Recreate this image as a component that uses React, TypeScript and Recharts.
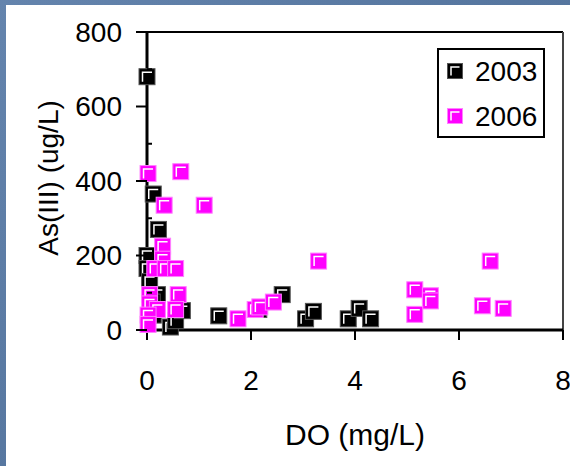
import React from 'react'
import {
  ScatterChart,
  Scatter,
  XAxis,
  YAxis,
  ReferenceLine,
} from 'recharts'

// DO (mg/L) and As(III) (ug/L) readings, per survey year
const do2003 = [0, 0.12, 0.22, 0, 0, 0.05, 0.2, 0.1, 0.12, 0.45, 0.55, 0.68, 1.38, 2.15, 2.6, 3.05, 3.2, 3.87, 4.08, 4.3]
const as2003 = [680, 365, 270, 200, 165, 130, 95, 75, 40, 8, 25, 52, 38, 55, 95, 30, 50, 30, 58, 30]

const do2006 = [0.02, 0.65, 0.33, 1.1, 0.3, 0.3, 0.15, 0.35, 0.55, 0.05, 0.6, 0.05, 0.55, 0.2, 0.02, 0.02, 1.75, 2.08, 2.17, 2.43, 3.3, 5.15, 5.45, 5.45, 5.15, 6.6, 6.45, 6.85]
const as2006 = [420, 425, 335, 335, 225, 190, 165, 165, 165, 95, 95, 70, 55, 55, 40, 15, 30, 55, 62, 75, 185, 108, 92, 78, 42, 185, 65, 58]

const xTicks = [0, 2, 4, 6, 8]
const yTicks = [0, 100, 200, 300, 400, 500, 600, 700, 800]

const series = [
  { name: '2003', fill: '#000000', edge: '#555555' },
  { name: '2006', fill: '#ff00ff', edge: '#ff80ff' },
]

const toPoints = (xs: number[], ys: number[]) => xs.map((x, i) => ({ x, y: ys[i] }))

const FONT = '"Liberation Sans", Arial, sans-serif'
const Y_AXIS_W = 147

const Marker = ({ cx, cy, fill, edge, size = 16 }: any) => {
  const s = size
  const x = cx - s / 2
  const y = cy - s / 2
  return (
    <g>
      <rect x={x} y={y} width={s} height={s} fill={fill} stroke={edge} strokeWidth={1} />
      <path
        d={`M${x + 3.5},${y + s - 3} L${x + 3.5},${y + 3.5} L${x + s - 3},${y + 3.5}`}
        stroke="#fff"
        strokeWidth={1.5}
        fill="none"
      />
    </g>
  )
}

const renderYTick = (props: any) => {
  const { y, payload } = props
  const v = payload.value
  const major = v % 200 === 0
  return (
    <g>
      {major ? (
        <line x1={Y_AXIS_W - 11} x2={Y_AXIS_W} y1={y} y2={y} stroke="#000" strokeWidth={2} />
      ) : (
        <line x1={Y_AXIS_W} x2={Y_AXIS_W + 5} y1={y} y2={y} stroke="#000" strokeWidth={2} />
      )}
      {major && (
        <text x={Y_AXIS_W - 25} y={y} dy="0.35em" textAnchor="end" fontSize={28} fontFamily={FONT} fill="#000">
          {v}
        </text>
      )}
    </g>
  )
}

const ChartLegend = () => (
  <div
    style={{
      position: 'absolute',
      left: 437,
      top: 48,
      width: 108,
      height: 90,
      boxSizing: 'border-box',
      border: '2px solid #000',
      background: '#fff',
      fontFamily: FONT,
      fontSize: 28,
      color: '#000',
    }}
  >
    {series.map((s, i) => (
      <div key={s.name}>
        <svg
          width={16}
          height={16}
          style={{ position: 'absolute', left: 8, top: 13 + i * 45 }}
        >
          <Marker cx={8} cy={8} fill={s.fill} edge={s.edge} size={15} />
        </svg>
        <span style={{ position: 'absolute', left: 36, top: 22 + i * 45 - 16, lineHeight: '32px' }}>
          {s.name}
        </span>
      </div>
    ))}
  </div>
)

export default function App() {
  const data2003 = toPoints(do2003, as2003)
  const data2006 = toPoints(do2006, as2006)

  return (
    <div
      style={{
        position: 'absolute',
        left: 0,
        top: 0,
        width: 570,
        height: 466,
        background: 'linear-gradient(135deg, #6484ad 0%, #56769f 50%, #4f6f98 100%)',
        overflow: 'hidden',
      }}
    >
      <div style={{ position: 'absolute', left: 6, top: 5, right: 0, bottom: 0, background: '#fff' }} />
      <div style={{ position: 'absolute', left: 0, top: 0 }}>
        <ScatterChart width={570} height={466} margin={{ top: 32, right: 7, left: 0, bottom: 0 }}>
          <XAxis
            type="number"
            dataKey="x"
            domain={[0, 8]}
            ticks={xTicks}
            height={136}
            axisLine={{ stroke: '#000', strokeWidth: 3 }}
            tickLine={{ stroke: '#000', strokeWidth: 2 }}
            tickSize={10}
            tickMargin={30}
            tick={{ fill: '#000', fontSize: 28, fontFamily: FONT }}
            label={(p: any) => {
              const vb = p.viewBox
              return (
                <text x={vb.x + vb.width / 2} y={434} dy="0.35em" textAnchor="middle" fontSize={30} fontFamily={FONT} fill="#000">
                  DO (mg/L)
                </text>
              )
            }}
          />
          <YAxis
            type="number"
            dataKey="y"
            domain={[0, 800]}
            ticks={yTicks}
            width={Y_AXIS_W}
            axisLine={{ stroke: '#000', strokeWidth: 3 }}
            tickLine={false}
            tick={renderYTick}
            label={(p: any) => {
              const vb = p.viewBox
              const cy = vb.y + vb.height / 2 - 3
              return (
                <text
                  x={48}
                  y={cy}
                  dy="0.35em"
                  textAnchor="middle"
                  transform={`rotate(-90, 48, ${cy})`}
                  fontSize={28}
                  fontFamily={FONT}
                  fill="#000"
                >
                  As(III) (ug/L)
                </text>
              )
            }}
          />
          <ReferenceLine y={800} stroke="#000" strokeWidth={2} />
          <ReferenceLine x={8} stroke="#444" strokeWidth={2} />
          <Scatter
            name="2003"
            data={data2003}
            isAnimationActive={false}
            shape={(p: any) => <Marker cx={p.cx} cy={p.cy} fill={series[0].fill} edge={series[0].edge} />}
          />
          <Scatter
            name="2006"
            data={data2006}
            isAnimationActive={false}
            shape={(p: any) => <Marker cx={p.cx} cy={p.cy} fill={series[1].fill} edge={series[1].edge} />}
          />
        </ScatterChart>
      </div>
      <ChartLegend />
    </div>
  )
}
